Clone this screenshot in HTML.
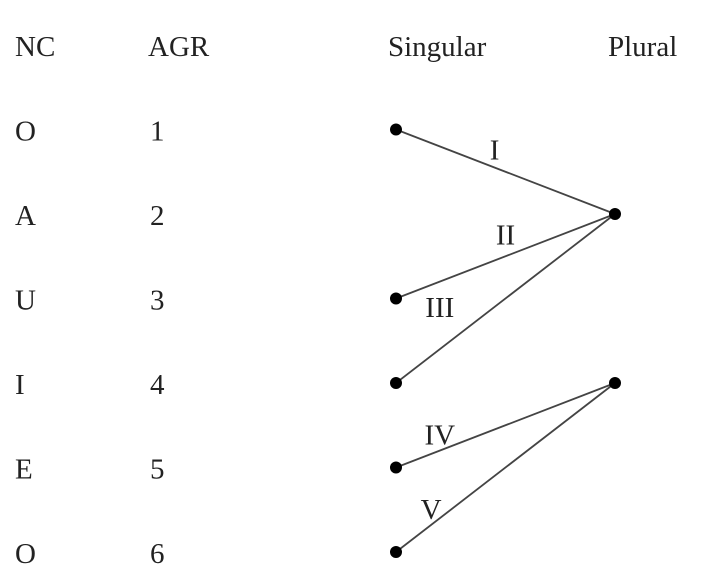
<!DOCTYPE html>
<html><head><meta charset="utf-8"><style>
html,body{margin:0;padding:0;background:#fff;}
svg{display:block;}
text{font-family:"Liberation Serif",serif;font-size:29px;fill:#222;}
</style></head><body>
<svg width="724" height="588" viewBox="0 0 724 588">
</svg>
<script>
const ncLabels = ["O","A","U","I","E","O"];
const agrLabels = ["1","2","3","4","5","6"];
const singularRows = [1,3,4,5,6];
const pluralRows = [2,4];
const linkFrom = [1,3,4,5,6];
const linkTo = [2,2,2,4,4];
const linkNames = ["I","II","III","IV","V"];
const linkLabelPos = [[0.45,-8],[0.5,-12],[0.2,-32],[0.2,-6],[0.16,-6]];

const ns="http://www.w3.org/2000/svg";
const svg=document.querySelector("svg");
const rowY=r=>45+r*84.5;
const xSing=396, xPlur=615;
function txt(x,y,s,name,anchor){
  const t=document.createElementNS(ns,"text");
  t.setAttribute("x",x);t.setAttribute("y",y);
  if(anchor)t.setAttribute("text-anchor",anchor);
  t.textContent=s;
  
  
  svg.appendChild(t);
}
txt(15,rowY(0)+11,"NC","nc-header");
txt(148,rowY(0)+11,"AGR","agr-header");
txt(388,rowY(0)+11,"Singular","singular-header");
txt(608,rowY(0)+11,"Plural","plural-header");
ncLabels.forEach((s,i)=>txt(15,rowY(i+1)+11,s,"nc-label-"+(i+1)));
agrLabels.forEach((s,i)=>txt(150,rowY(i+1)+11,s,"agr-label-"+(i+1)));
linkFrom.forEach((f,i)=>{
  const x1=xSing,y1=rowY(f),x2=xPlur,y2=rowY(linkTo[i]);
  const l=document.createElementNS(ns,"line");
  l.setAttribute("x1",x1);l.setAttribute("y1",y1);l.setAttribute("x2",x2);l.setAttribute("y2",y2);
  l.setAttribute("stroke","#444");l.setAttribute("stroke-width","1.8");
  
  
  svg.appendChild(l);
  const p=linkLabelPos[i];
  txt(x1+(x2-x1)*p[0],y1+(y2-y1)*p[0]+p[1],linkNames[i],"link-label-"+linkNames[i],"middle");
});
function dot(x,y,name){
  const c=document.createElementNS(ns,"circle");
  c.setAttribute("cx",x);c.setAttribute("cy",y);c.setAttribute("r","6");c.setAttribute("fill","#000");
  
  
  svg.appendChild(c);
}
singularRows.forEach(r=>dot(xSing,rowY(r),"singular-dot-"+r));
pluralRows.forEach(r=>dot(xPlur,rowY(r),"plural-dot-"+r));
</script>
</body></html>
